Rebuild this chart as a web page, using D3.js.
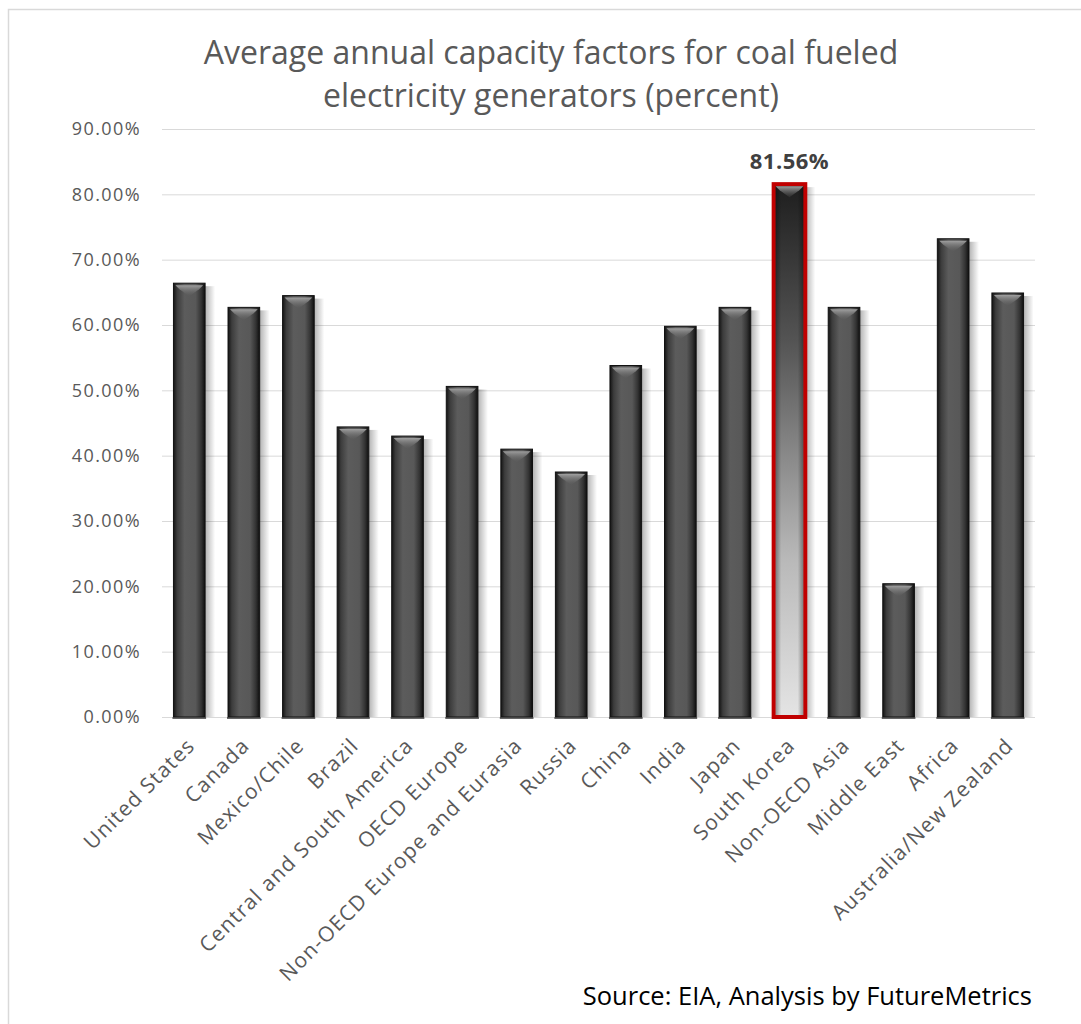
<!DOCTYPE html>
<html>
<head>
<meta charset="utf-8">
<script src="https://d3js.org/d3.v7.min.js"></script>
<style>
  body { margin: 0; background: #fff; }
  * { font-family: 'Open Sans', sans-serif; }
</style>
</head>
<body>
<svg width="1081" height="1024"></svg>
<script>
// chart data
const regions = ['United States', 'Canada', 'Mexico/Chile', 'Brazil', 'Central and South America',
  'OECD Europe', 'Non-OECD Europe and Eurasia', 'Russia', 'China', 'India', 'Japan',
  'South Korea', 'Non-OECD Asia', 'Middle East', 'Africa', 'Australia/New Zealand']
const factors = [0.664, 0.627, 0.645, 0.444, 0.430, 0.506, 0.410, 0.375, 0.538, 0.598, 0.627,
  0.8156, 0.627, 0.204, 0.732, 0.649]
const yTicks = [0, 0.1, 0.2, 0.3, 0.4, 0.5, 0.6, 0.7, 0.8, 0.9]
const highlight = 'South Korea'
const titleLines = ['Average annual capacity factors for coal fueled', 'electricity generators (percent)']
const sourceText = 'Source: EIA, Analysis by FutureMetrics'

const data = regions.map((r, i) => ({ region: r, value: factors[i] }))

const svg = d3.select('svg')

// outer frame
svg.append('rect')
  .attr('x', 8.5).attr('y', 9.5)
  .attr('width', 1080).attr('height', 1020)
  .attr('fill', '#fff').attr('stroke', '#d9d9d9').attr('stroke-width', 1.5)

const defs = svg.append('defs')

const barGrad = defs.append('linearGradient').attr('id', 'barGrad')
  .attr('x1', '0').attr('x2', '1').attr('y1', '0').attr('y2', '0')
barGrad.append('stop').attr('offset', '0%').attr('stop-color', '#141414')
barGrad.append('stop').attr('offset', '12%').attr('stop-color', '#3c3c3c')
barGrad.append('stop').attr('offset', '35%').attr('stop-color', '#5c5c5c')
barGrad.append('stop').attr('offset', '70%').attr('stop-color', '#585858')
barGrad.append('stop').attr('offset', '88%').attr('stop-color', '#333')
barGrad.append('stop').attr('offset', '100%').attr('stop-color', '#0e0e0e')

const hiGrad = defs.append('linearGradient').attr('id', 'hiGrad')
  .attr('x1', '0').attr('x2', '0').attr('y1', '0').attr('y2', '1')
hiGrad.append('stop').attr('offset', '0%').attr('stop-color', '#1e1e1e')
hiGrad.append('stop').attr('offset', '30%').attr('stop-color', '#555')
hiGrad.append('stop').attr('offset', '70%').attr('stop-color', '#b8b8b8')
hiGrad.append('stop').attr('offset', '100%').attr('stop-color', '#e4e4e4')

const hiSide = defs.append('linearGradient').attr('id', 'hiSide')
  .attr('x1', '0').attr('x2', '1').attr('y1', '0').attr('y2', '0')
hiSide.append('stop').attr('offset', '0%').attr('stop-color', '#000').attr('stop-opacity', 0.35)
hiSide.append('stop').attr('offset', '20%').attr('stop-color', '#000').attr('stop-opacity', 0)
hiSide.append('stop').attr('offset', '80%').attr('stop-color', '#000').attr('stop-opacity', 0)
hiSide.append('stop').attr('offset', '100%').attr('stop-color', '#000').attr('stop-opacity', 0.35)

const shadowGrad = defs.append('linearGradient').attr('id', 'shadowGrad')
  .attr('x1', '0').attr('x2', '1').attr('y1', '0').attr('y2', '0')
shadowGrad.append('stop').attr('offset', '0%').attr('stop-color', '#000').attr('stop-opacity', 0.3)
shadowGrad.append('stop').attr('offset', '100%').attr('stop-color', '#000').attr('stop-opacity', 0)

const bevelGrad = defs.append('linearGradient').attr('id', 'bevelGrad')
  .attr('x1', '0').attr('x2', '0').attr('y1', '0').attr('y2', '1')
bevelGrad.append('stop').attr('offset', '0%').attr('stop-color', '#a0a0a0')
bevelGrad.append('stop').attr('offset', '100%').attr('stop-color', '#5a5a5a').attr('stop-opacity', 0.2)

const x = d3.scaleBand()
  .domain(regions)
  .range([162, 1035])
  .paddingInner(0.42)
  .paddingOuter(0.21)

const y = d3.scaleLinear()
  .domain([0, 0.9])
  .range([717, 129])

// gridlines
svg.append('g')
  .selectAll('line')
  .data(yTicks)
  .join('line')
  .attr('x1', 162).attr('x2', 1035)
  .attr('y1', d => y(d) + 0.5).attr('y2', d => y(d) + 0.5)
  .attr('stroke', '#d9d9d9').attr('stroke-width', 1)

// y axis labels
const yAxis = svg.append('g')
  .attr('transform', 'translate(150,0)')
  .call(d3.axisLeft(y).tickValues(yTicks).tickFormat(d => (d * 100).toFixed(2) + '%').tickSize(0).tickPadding(9))
yAxis.select('.domain').remove()
yAxis.selectAll('text')
  .attr('fill', '#595959')
  .style('font-size', '18px')
  .style('letter-spacing', '1.4px')

// bar shadows
svg.append('g')
  .selectAll('rect')
  .data(data)
  .join('rect')
  .attr('x', d => x(d.region) + x.bandwidth())
  .attr('y', d => y(d.value) + 3)
  .attr('width', 10)
  .attr('height', d => y(0) - y(d.value) - 3)
  .attr('fill', 'url(#shadowGrad)')

// bars
const bars = svg.append('g')
bars.selectAll('rect.bar')
  .data(data)
  .join('rect')
  .attr('class', 'bar')
  .attr('x', d => x(d.region))
  .attr('y', d => y(d.value))
  .attr('width', x.bandwidth())
  .attr('height', d => y(0) - y(d.value))
  .attr('fill', d => d.region === highlight ? 'url(#hiGrad)' : 'url(#barGrad)')
  .attr('stroke', d => d.region === highlight ? '#c00000' : '#111')
  .attr('stroke-width', d => d.region === highlight ? 4 : 1)

// side shading for highlighted bar
bars.selectAll('rect.side')
  .data(data.filter(d => d.region === highlight))
  .join('rect')
  .attr('class', 'side')
  .attr('x', d => x(d.region) + 2)
  .attr('y', d => y(d.value) + 2)
  .attr('width', x.bandwidth() - 4)
  .attr('height', d => y(0) - y(d.value) - 4)
  .attr('fill', 'url(#hiSide)')

// top bevel chevrons
bars.selectAll('path.bevel')
  .data(data)
  .join('path')
  .attr('class', 'bevel')
  .attr('d', d => {
    const x0 = x(d.region) + 2, x1 = x(d.region) + x.bandwidth() - 2
    const t = y(d.value) + 2, xm = (x0 + x1) / 2
    return `M${x0},${t} L${x1},${t} L${x1 - 4},${t + 4} L${xm},${t + 11} L${x0 + 4},${t + 4} Z`
  })
  .attr('fill', 'url(#bevelGrad)')

// baseline under bars
bars.selectAll('line.base')
  .data(data)
  .join('line')
  .attr('class', 'base')
  .attr('x1', d => x(d.region) - 1)
  .attr('x2', d => x(d.region) + x.bandwidth() + 1)
  .attr('y1', y(0) + 1).attr('y2', y(0) + 1)
  .attr('stroke', d => d.region === highlight ? '#c00000' : '#333')
  .attr('stroke-width', 1.5)

// data label on highlighted bar
svg.append('g')
  .selectAll('text')
  .data(data.filter(d => d.region === highlight))
  .join('text')
  .attr('x', d => x(d.region) + x.bandwidth() / 2)
  .attr('y', d => y(d.value) - 15)
  .attr('text-anchor', 'middle')
  .attr('fill', '#404040')
  .style('font-size', '22px')
  .style('font-weight', 'bold')
  .style('letter-spacing', '0.5px')
  .text(d => (d.value * 100).toFixed(2) + '%')

// x labels rotated
svg.append('g')
  .selectAll('text')
  .data(regions)
  .join('text')
  .attr('transform', d => `translate(${x(d) + x.bandwidth() / 2 + 7},${y(0) + 30}) rotate(-45)`)
  .attr('text-anchor', 'end')
  .attr('fill', '#595959')
  .style('font-size', '21px')
  .style('letter-spacing', '1.2px')
  .text(d => d)

// title
svg.append('text')
  .attr('x', 551)
  .attr('y', 64)
  .attr('text-anchor', 'middle')
  .attr('fill', '#595959')
  .style('font-size', '32px')
  .selectAll('tspan')
  .data(titleLines)
  .join('tspan')
  .attr('x', 551)
  .attr('dy', (d, i) => i === 0 ? 0 : 43)
  .text(d => d)

// source note
svg.append('text')
  .attr('x', 1032)
  .attr('y', 1005)
  .attr('text-anchor', 'end')
  .attr('fill', '#000')
  .style('font-size', '25.5px')
  .text(sourceText)
</script>
</body>
</html>
